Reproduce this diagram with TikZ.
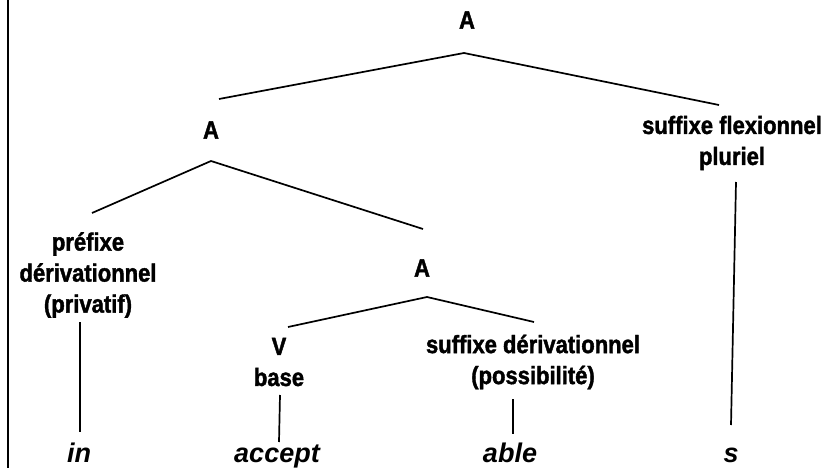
\documentclass[tikz,border=0pt]{standalone}
\usepackage{fontspec}
\setmainfont{Liberation Sans}
\newfontfamily\treefont[FakeStretch=0.88,BoldFeatures={FakeBold=1.6}]{Liberation Sans}
\definecolor{color_tree_ink}{HTML}{000000}
\def\treelinewidth{1.7pt}
\def\treeframewidth{1.3pt}
\tikzset{
  tree_cat/.style={font=\treefont\bfseries\fontsize{25}{31}\selectfont, align=center, inner sep=0pt, text=color_tree_ink},
  tree_leaf/.style={font=\bfseries\itshape\fontsize{27}{31}\selectfont, inner sep=0pt, anchor=base, text=color_tree_ink},
  tree_branch/.style={color_tree_ink, line width=\treelinewidth},
}

\begin{document}
\begin{tikzpicture}[x=1pt,y=-1pt]
    \useasboundingbox (0,0) rectangle (840,468);
    \draw[color_tree_ink, line width=\treeframewidth] (8,0) -- (8,468);
    % categories
    \node[tree_cat] (topA) at (467,20) {A};
    \node[tree_cat] (leftA) at (211,130) {A};
    \node[tree_cat] (sflex) at (732,143) {suffixe flexionnel\\pluriel};
    \node[tree_cat] (prefixe) at (88,275) {préfixe\\dérivationnel\\(privatif)};
    \node[tree_cat] (midA) at (422,268) {A};
    \node[tree_cat] (verb) at (279,362) {V\\base};
    \node[tree_cat] (sder) at (533,362) {suffixe dérivationnel\\(possibilité)};
    % morphemes
    \node[tree_leaf] (in) at (79,462) {in};
    \node[tree_leaf] (accept) at (277,462) {accept};
    \node[tree_leaf] (able) at (510,462) {able};
    \node[tree_leaf] (s) at (731,462) {s};
    % branches
    \draw[tree_branch] ([shift={(8,-31)}]leftA.center) -- ([shift={(-3,33)}]topA.center) -- ([shift={(-13,-38)}]sflex.center);
    \draw[tree_branch] ([shift={(4,-62)}]prefixe.center) -- ([shift={(0,31)}]leftA.center) -- ([shift={(1,-39)}]midA.center);
    \draw[tree_branch] ([shift={(9,-35)}]verb.center) -- ([shift={(5,29)}]midA.center) -- ([shift={(1,-40)}]sder.center);
    \draw[tree_branch] ([shift={(-8,47)}]prefixe.center) -- ([shift={(1,-30)}]in.base);
    \draw[tree_branch] ([shift={(1,33)}]verb.center) -- ([shift={(2,-20)}]accept.base);
    \draw[tree_branch] ([shift={(-20,37)}]sder.center) -- ([shift={(3,-28)}]able.base);
    \draw[tree_branch] ([shift={(4,39)}]sflex.center) -- ([shift={(0,-37)}]s.base);
\end{tikzpicture}
\end{document}
